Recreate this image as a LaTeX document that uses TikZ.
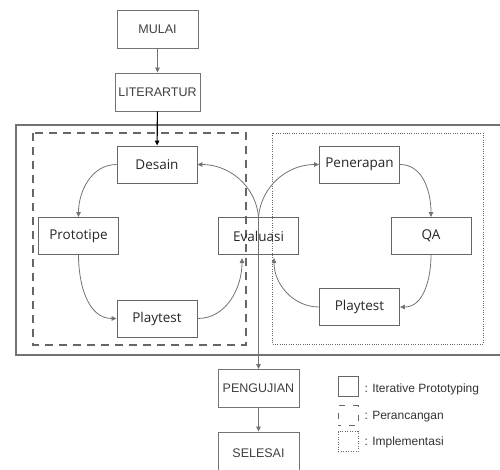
\documentclass[tikz,border=0pt]{standalone}
\usepackage{fontspec}
\setmainfont{Liberation Sans}
\newfontfamily\stagefont{Open Sans}
\usetikzlibrary{arrows.meta,positioning,calc}

\begin{document}
\begin{tikzpicture}[
        x=1pt,y=-1pt,
        >={Triangle[length=5pt,width=4.5pt]},
        box/.style={rectangle,draw=black!55,line width=0.9pt,minimum width=81pt,minimum height=38pt,align=center,text=black!75,font=\fontsize{12.5}{14}\selectfont},
        stage/.style={rectangle,draw=black!60,line width=0.9pt,minimum width=80pt,minimum height=37pt,align=center,text=black!85,font=\stagefont\fontsize{13.5}{15}\selectfont},
        flow/.style={->,black!55,line width=0.8pt},
        iterframe/.style={draw=black!55,line width=1.4pt},
        designframe/.style={draw=black!60,line width=1.1pt,dash pattern=on 8pt off 6pt},
        implframe/.style={draw=black!60,line width=0.8pt,dash pattern=on 0.9pt off 1.4pt},
        legendbox/.style={rectangle,minimum size=20pt,inner sep=0pt},
        legendtext/.style={anchor=west,text=black!80,font=\fontsize{12}{14}\selectfont}
    ]
        \useasboundingbox (0,0) rectangle (500,469);

        \draw[iterframe] (16,125) rectangle (502,355);
        \draw[designframe] (33,133) rectangle (246,345);
        \draw[implframe] (272,133) rectangle (483,344);

        \node[box] (mulai) at (157.5,29) {MULAI};
        \node[box] (lit) at (157.5,92) {LITERARTUR};
        \node[stage] (desain) at (157,164.5) {Desain};
        \node[stage] (proto) at (78.5,236) {Prototipe};
        \node[stage] (play1) at (157,318.5) {Playtest};
        \node[stage] (eval) at (258.5,236) {Evaluasi};
        \node[stage] (terap) at (359.5,164.5) {Penerapan};
        \node[stage] (qa) at (431,236) {QA};
        \node[stage] (play2) at (359.5,307) {Playtest};
        \node[box] (uji) at (258.5,388.5) {PENGUJIAN};
        \node[box,minimum height=42pt] (selesai) at (258.5,453) {SELESAI};

        \coordinate (evalinL) at (242,258);
        \coordinate (evalinR) at (274,258);

        \draw[flow] (mulai) -- (lit);
        \draw[->,black,line width=1.1pt] (lit) -- (desain);
        \draw[flow] (desain.west) to[out=180,in=90] (proto.north);
        \draw[flow] (proto.south) to[out=270,in=180] (play1.west);
        \draw[flow] (play1.east) to[out=0,in=270] (evalinL);
        \draw[flow] (eval.north) to[out=95,in=0] (desain.east);
        \draw[flow] (eval.north) to[out=85,in=180] (terap.west);
        \draw[flow] (terap.east) to[out=0,in=90] (qa.north);
        \draw[flow] (qa.south) to[out=270,in=0] (play2.east);
        \draw[flow] (play2.west) to[out=180,in=270] (evalinR);
        \draw[flow] (eval.north) -- (uji.north);
        \draw[flow] (uji) -- (selesai);

        \node[legendbox,draw=black!60,line width=0.9pt] (lgiter) at (348,386.5) {};
        \node[legendbox,draw=black!60,line width=0.9pt,dash pattern=on 6pt off 8pt,dash phase=3pt] (lgdesign) at (348,415.5) {};
        \node[legendbox,draw=black!60,line width=0.7pt,dash pattern=on 0.9pt off 1.6pt] (lgimpl) at (348,441.5) {};
        \node[legendtext] (lgitertext) at (361,389) {: Iterative Prototyping};
        \node[legendtext] (lgdesigntext) at (361,417) {: Perancangan};
        \node[legendtext] (lgimpltext) at (361,442) {: Implementasi};
    \end{tikzpicture}
\end{document}
